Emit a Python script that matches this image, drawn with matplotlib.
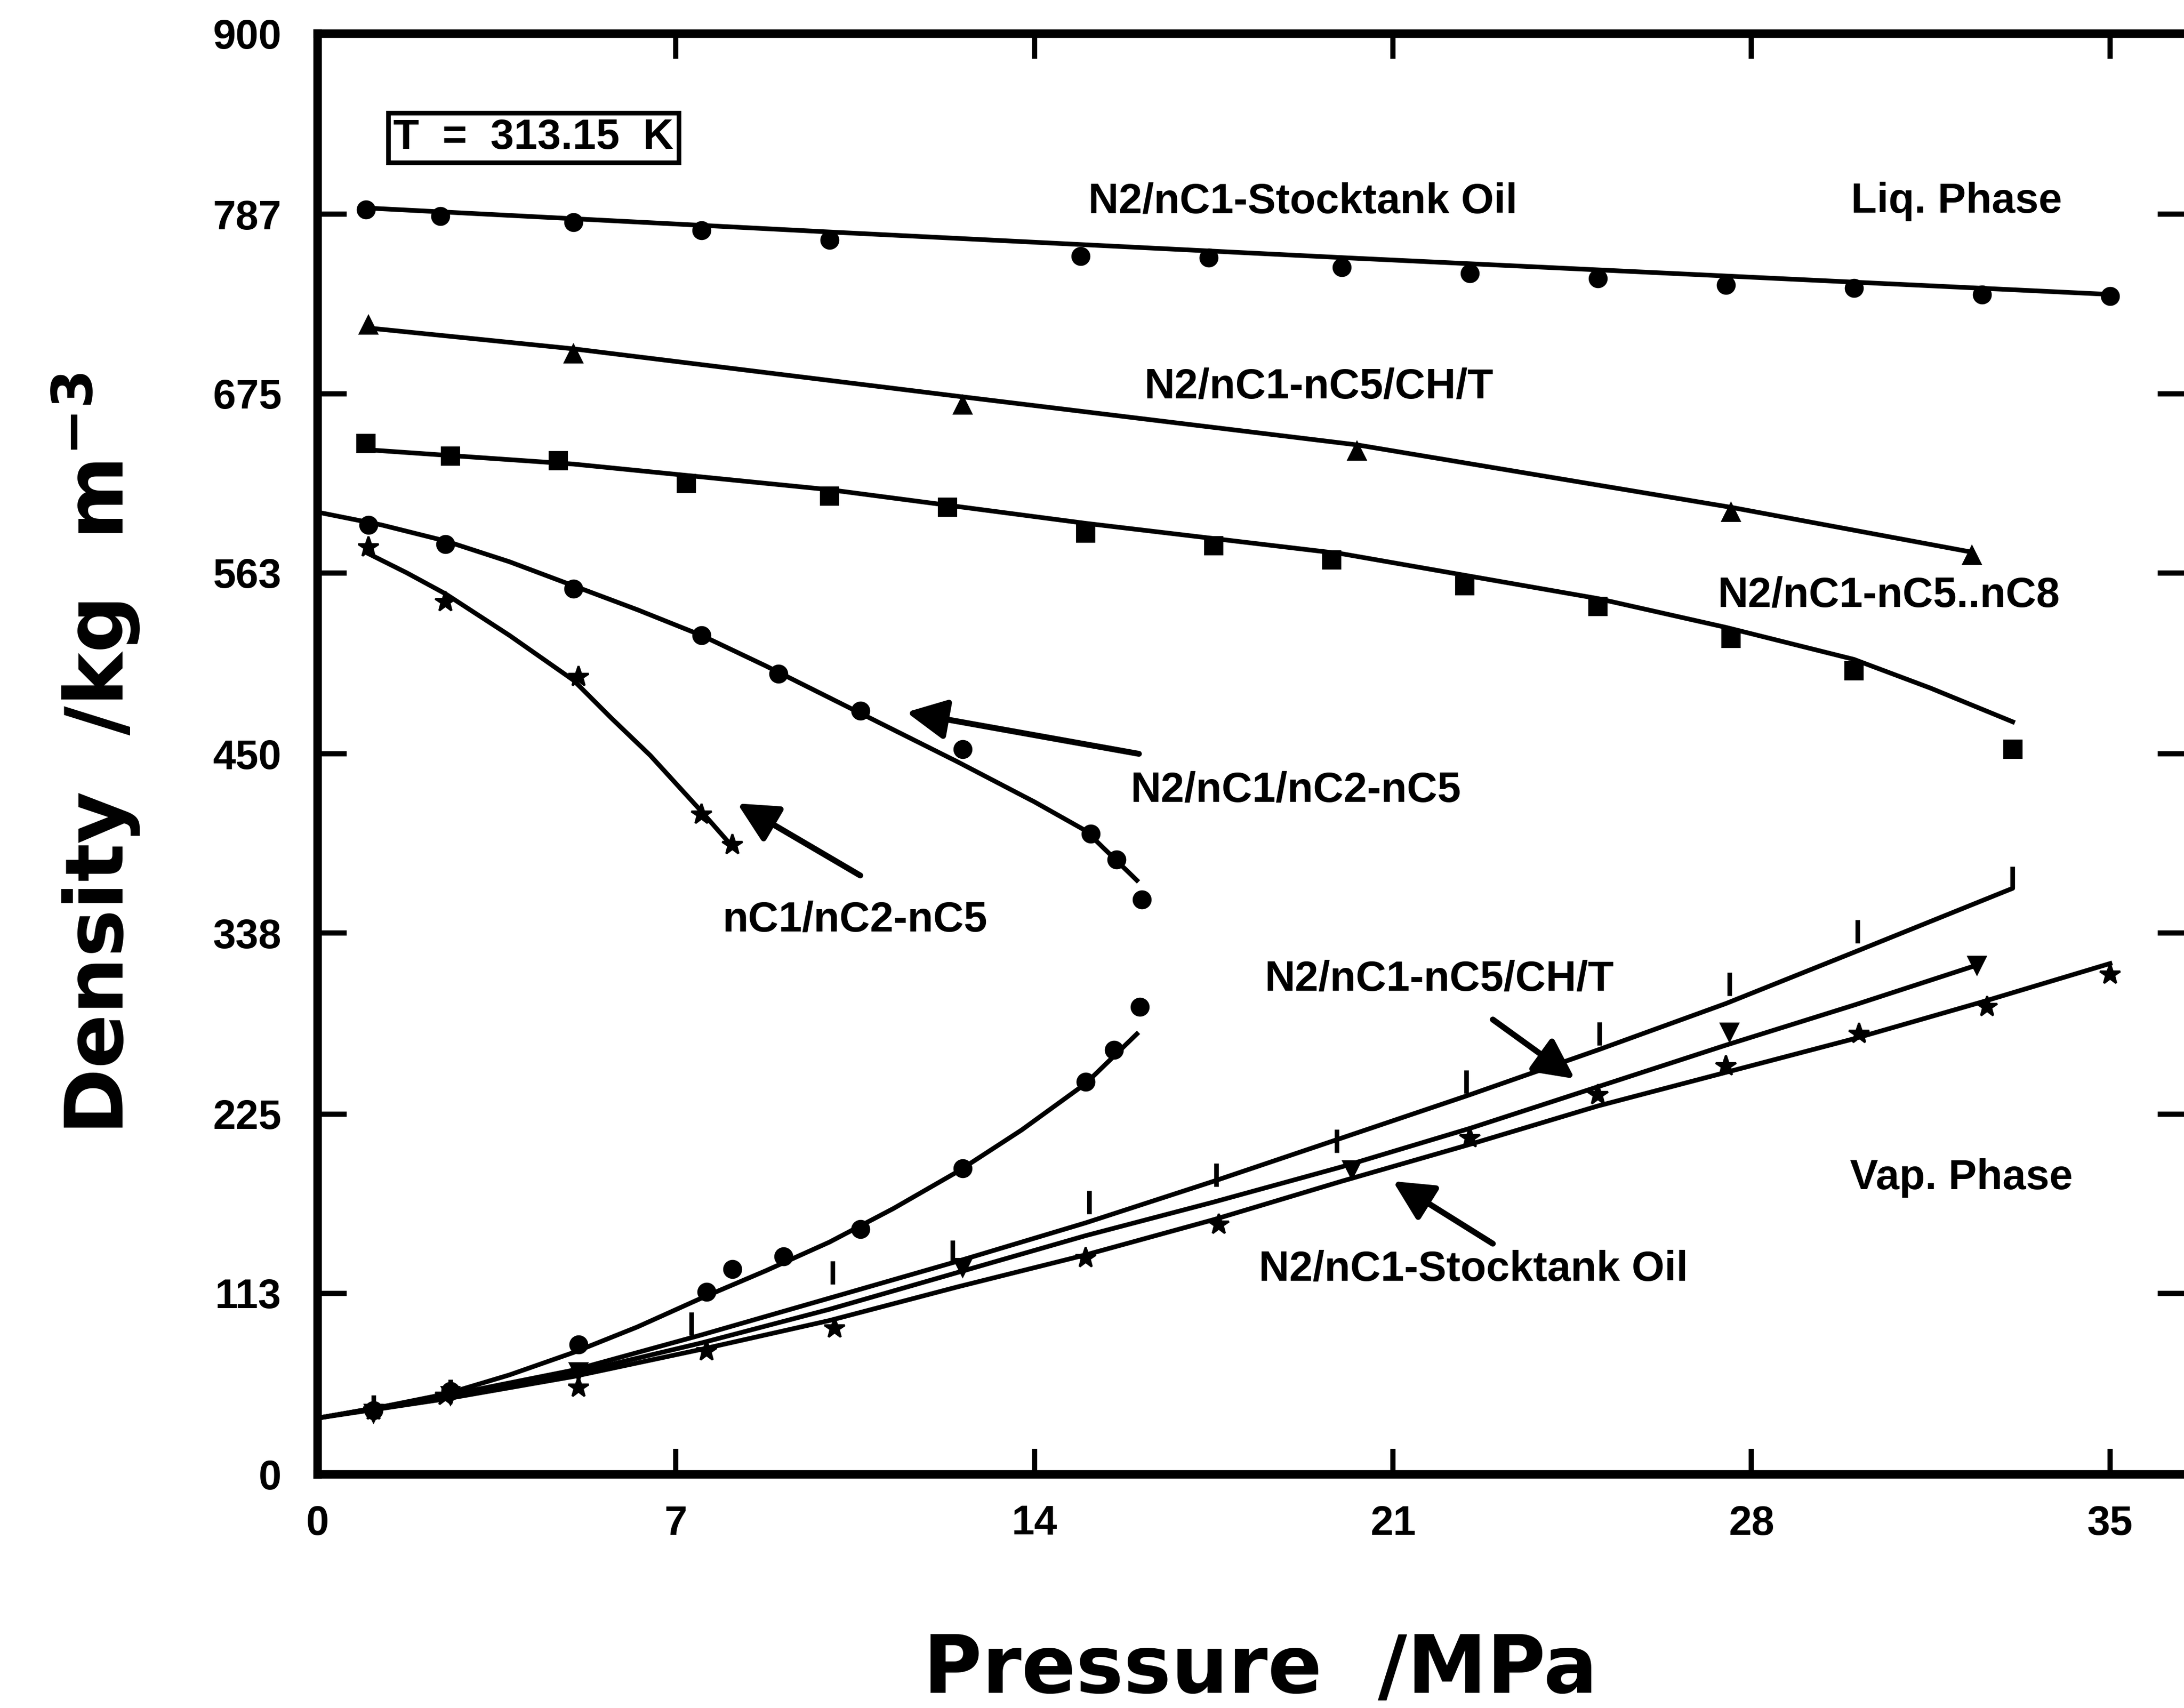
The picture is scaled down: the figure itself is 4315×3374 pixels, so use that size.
"""
    Density vs pressure, liquid and vapour phases, T = 313.15 K
"""
import matplotlib
matplotlib.use("Agg")
import matplotlib.pyplot as plt

# ---- data (MPa, kg m^-3) ----
# liquid phase, measured points
stock_liq_p = [0.95, 2.4, 5.0, 7.5, 10.0, 14.9, 17.4, 20.0, 22.5, 25.0, 27.5, 30.0, 32.5, 35.0]
stock_liq_rho = [790, 786, 782, 777, 771, 761, 760, 754, 750, 747, 743, 741, 737, 736]
cht_liq_p = [1.0, 5.0, 12.6, 20.3, 27.6, 32.3]
cht_liq_rho = [718, 700, 668, 639, 601, 574]
c58_liq_p = [0.95, 2.6, 4.7, 7.2, 10.0, 12.3, 15.0, 17.5, 19.8, 22.4, 25.0, 27.6, 30.0, 33.1]
c58_liq_rho = [644, 636, 633, 619, 611, 604, 588, 580, 571, 555, 542, 522, 502, 453]
n2c25_liq_p = [1.0, 2.5, 5.0, 7.5, 9.0, 10.6, 12.6, 15.1, 15.6, 16.1]
n2c25_liq_rho = [593, 581, 553, 524, 500, 477, 453, 400, 384, 359]
c25_liq_p = [1.0, 2.5, 5.1, 7.5, 8.1]
c25_liq_rho = [579, 545, 498, 412, 393]

# liquid phase, calculated curves
stock_liq_fit_p = [0.95, 10, 20, 35]
stock_liq_fit_rho = [791, 776, 760, 737]
cht_liq_fit_p = [1.0, 5.0, 12.6, 20.3, 27.6, 32.3]
cht_liq_fit_rho = [716, 703, 673, 643, 604, 576]
c58_liq_fit_p = [0.95, 5, 10, 15, 20, 25, 27.5, 30, 31.5, 33.1]
c58_liq_fit_rho = [640, 631, 615, 594, 575, 547, 529, 509, 491, 470]
n2c25_liq_fit_p = [0, 1.25, 2.5, 3.75, 5, 6.25, 7.5, 8.75, 10, 11.25, 12.5, 14, 15, 16.0]
n2c25_liq_fit_rho = [601, 593, 583, 570, 555, 540, 524, 505, 485, 465, 445, 420, 402, 371]
c25_liq_fit_p = [1.0, 1.75, 2.5, 3.75, 5.0, 5.75, 6.5, 7.5, 8.05]
c25_liq_fit_rho = [575, 563, 550, 524, 496, 472, 449, 414, 394]

# vapour phase, measured points
n2c25_vap_p = [1.1, 2.6, 5.1, 7.6, 8.1, 9.1, 10.6, 12.6, 15.0, 15.55, 16.06]
n2c25_vap_rho = [40, 52, 81, 114, 128, 136, 153, 191, 245, 265, 292]
c58_vap_p = [1.1, 2.6, 7.3, 10.06, 12.4, 15.07, 17.55, 19.9, 22.43, 25.03, 27.57, 30.07]
c58_vap_rho = [42, 52, 94, 126, 139, 170, 187, 208, 245, 275, 306, 339]
cht_vap_p = [1.1, 2.6, 5.1, 12.6, 20.2, 27.57, 32.4]
cht_vap_rho = [38, 49, 64, 129, 190, 276, 318]
stock_vap_p = [1.1, 2.5, 5.1, 7.6, 10.1, 15.0, 17.6, 22.5, 25.0, 27.5, 30.1, 32.6, 35.0]
stock_vap_rho = [40, 49, 54, 77, 91, 135, 156, 210, 237, 255, 275, 292, 312]

# vapour phase, calculated curves
n2c25_vap_fit_p = [0, 1.25, 2.5, 3.75, 5, 6.25, 7.5, 8.75, 10, 11.25, 12.5, 13.75, 15, 16.0]
n2c25_vap_fit_rho = [35, 42, 50, 62, 76, 92, 110, 127, 145, 166, 189, 215, 244, 275]
c58_vap_fit_p = [0, 2.5, 5, 7.5, 10, 12.5, 15, 17.5, 20, 22.5, 25, 27.5, 30, 33.1, 33.1]
c58_vap_fit_rho = [35, 49, 65, 87, 110, 133, 157, 183, 210, 237, 265, 294, 326, 366, 378]
cht_vap_fit_p = [0, 2.5, 5, 7.5, 10, 12.5, 15, 17.5, 20, 22.5, 25, 27.5, 30, 32.4]
cht_vap_fit_rho = [35, 48, 63, 82, 103, 126, 149, 170, 192, 216, 242, 268, 293, 318]
stock_vap_fit_p = [0, 2.5, 5, 7.5, 10, 12.5, 15, 17.5, 20, 22.5, 25, 27.5, 30, 32.5, 35]
stock_vap_fit_rho = [35, 47, 61, 78, 96, 117, 137, 159, 183, 206, 230, 251, 272, 295, 319]

x_ticks = [0, 7, 14, 21, 28, 35]
y_ticks = [0, 113, 225, 338, 450, 563, 675, 787, 900]

# labels: (text, x, y)
curve_labels = [
    ("N2/nC1-Stocktank Oil", 19.24, 795),
    ("Liq. Phase", 32.0, 795),
    ("N2/nC1-nC5/CH/T", 19.55, 679),
    ("N2/nC1-nC5..nC8", 30.68, 549),
    ("N2/nC1/nC2-nC5", 19.1, 427),
    ("nC1/nC2-nC5", 10.5, 346),
    ("N2/nC1-nC5/CH/T", 21.9, 309),
    ("Vap. Phase", 32.1, 185),
    ("N2/nC1-Stocktank Oil", 22.57, 128),
]
# arrows: (tail x, tail y, head x, head y)
arrows = [
    (16.04, 450, 11.5, 476),
    (10.6, 374, 8.2, 419),
    (22.95, 284, 24.55, 247),
    (22.95, 144, 21.0, 183),
]

txt_font = ["Liberation Sans", "DejaVu Sans"]

fig = plt.figure(figsize=(4315 / 300, 3374 / 300), dpi=300)
ax = fig.add_axes([0.1453, 0.1369, 0.8560, 0.8435])

lw = 2.2
ms = 8

# liquid
ax.plot(stock_liq_fit_p, stock_liq_fit_rho, color="black", lw=lw)
ax.plot(stock_liq_p, stock_liq_rho, "o", color="black", ms=ms)
ax.plot(cht_liq_fit_p, cht_liq_fit_rho, color="black", lw=lw)
ax.plot(cht_liq_p, cht_liq_rho, "^", color="black", ms=ms)
ax.plot(c58_liq_fit_p, c58_liq_fit_rho, color="black", lw=lw)
ax.plot(c58_liq_p, c58_liq_rho, "s", color="black", ms=ms)
ax.plot(n2c25_liq_fit_p, n2c25_liq_fit_rho, color="black", lw=lw)
ax.plot(n2c25_liq_p, n2c25_liq_rho, "o", color="black", ms=ms)
ax.plot(c25_liq_fit_p, c25_liq_fit_rho, color="black", lw=lw)
ax.plot(c25_liq_p, c25_liq_rho, "*", color="black", ms=ms + 2)

# vapour
ax.plot(n2c25_vap_fit_p, n2c25_vap_fit_rho, color="black", lw=lw)
ax.plot(n2c25_vap_p, n2c25_vap_rho, "o", color="black", ms=ms)
ax.plot(c58_vap_fit_p, c58_vap_fit_rho, color="black", lw=lw)
ax.plot(c58_vap_p, c58_vap_rho, "|", color="black", ms=ms + 3, mew=2.2)
ax.plot(cht_vap_fit_p, cht_vap_fit_rho, color="black", lw=lw)
ax.plot(cht_vap_p, cht_vap_rho, "v", color="black", ms=ms)
ax.plot(stock_vap_fit_p, stock_vap_fit_rho, color="black", lw=lw)
ax.plot(stock_vap_p, stock_vap_rho, "*", color="black", ms=ms + 2)

# labels and arrows
for text, x, y in curve_labels:
    ax.text(x, y, text, ha="center", va="center", fontsize=20,
            fontweight="bold", family=txt_font)
for x0, y0, x1, y1 in arrows:
    ax.annotate("", xy=(x1, y1), xytext=(x0, y0),
                arrowprops=dict(arrowstyle="-|>", color="black", lw=2.8,
                                mutation_scale=40, shrinkA=0, shrinkB=0))

ax.text(4.22, 835, "T  =  313.15  K", ha="center", va="center", fontsize=20,
        fontweight="bold", family=txt_font,
        bbox=dict(boxstyle="square,pad=0.12", fc="white", ec="black", lw=2.2))

# axes
ax.set_xlim(0, 36.5)
ax.set_ylim(0, 900)
for s in ax.spines.values():
    s.set_linewidth(4)

ax.set_xticks(x_ticks)
ax.set_yticks(y_ticks)
ax.set_xticklabels([str(v) for v in x_ticks], family=txt_font,
                   fontweight="bold", fontsize=19.5)
ax.set_yticklabels([str(v) for v in y_ticks], family=txt_font,
                   fontweight="bold", fontsize=19.5)
ax.tick_params(axis="x", direction="in", length=12, width=2.5, pad=14.5, top=True)
ax.tick_params(axis="y", direction="in", length=14, width=2.5, pad=17, right=True)

ax.set_ylabel(r"Density  /kg  m$^{\mathbf{-3}}$", fontsize=38, fontweight="bold")
ax.yaxis.set_label_coords(-0.094, 0.5)
fig.text(0.577, 0.009, "Pressure  /MPa", ha="center", va="baseline",
         fontsize=38, fontweight="bold")

plt.savefig("out.png", dpi=300)
